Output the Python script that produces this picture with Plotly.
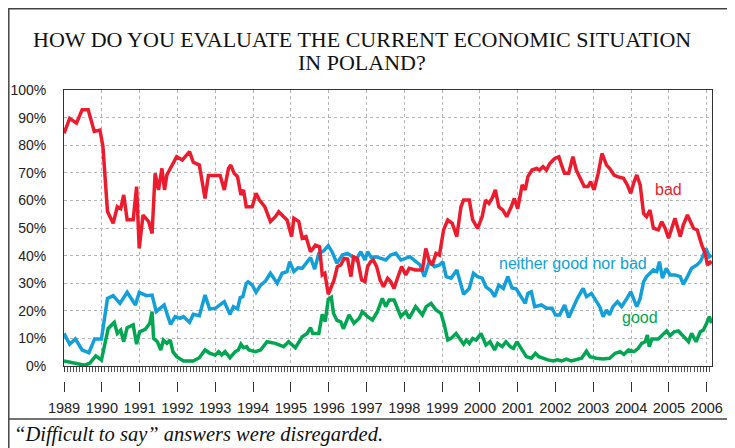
import plotly.graph_objects as go

TITLE_1 = "HOW DO YOU EVALUATE THE CURRENT ECONOMIC SITUATION"
TITLE_2 = "IN POLAND?"
NOTE = "\u201cDifficult to say\u201d answers were disregarded."

years = list(range(1989, 2007))
pct_ticks = list(range(0, 101, 10))
pct_labels = [f"{v}%" for v in pct_ticks]

# survey dates as decimal years
bad_x = [1989.00, 1989.15, 1989.33, 1989.48, 1989.64, 1989.80, 1989.95, 1990.03, 1990.15, 1990.30,
         1990.41, 1990.50, 1990.58, 1990.67, 1990.83, 1990.92, 1990.99, 1991.09, 1991.24, 1991.33,
         1991.41, 1991.50, 1991.59, 1991.66, 1991.72, 1991.85, 1991.98, 1992.13, 1992.32, 1992.42,
         1992.58, 1992.73, 1992.82, 1993.13, 1993.24, 1993.35, 1993.41, 1993.50, 1993.59, 1993.68,
         1993.75, 1993.82, 1993.98, 1994.08, 1994.17, 1994.31, 1994.46, 1994.59, 1994.68, 1994.81,
         1994.90, 1995.02, 1995.08, 1995.21, 1995.30, 1995.40, 1995.52, 1995.65, 1995.76, 1995.83,
         1995.90, 1995.99, 1996.06, 1996.14, 1996.23, 1996.32, 1996.41, 1996.50, 1996.59, 1996.66,
         1996.76, 1996.87, 1996.96, 1997.03, 1997.11, 1997.18, 1997.27, 1997.36, 1997.45, 1997.56,
         1997.64, 1997.73, 1997.82, 1997.93, 1998.04, 1998.13, 1998.30, 1998.48, 1998.57, 1998.65,
         1998.74, 1998.84, 1998.93, 1999.04, 1999.15, 1999.27, 1999.39, 1999.50, 1999.57, 1999.72,
         1999.81, 1999.94, 2000.06, 2000.15, 2000.24, 2000.32, 2000.41, 2000.50, 2000.61, 2000.71,
         2000.83, 2000.91, 2001.00, 2001.12, 2001.20, 2001.27, 2001.38, 2001.50, 2001.58, 2001.67,
         2001.76, 2001.85, 2001.98, 2002.09, 2002.16, 2002.24, 2002.35, 2002.46, 2002.55, 2002.67,
         2002.76, 2002.86, 2002.93, 2003.02, 2003.13, 2003.23, 2003.35, 2003.43, 2003.55, 2003.64,
         2003.80, 2003.90, 2003.99, 2004.08, 2004.15, 2004.24, 2004.33, 2004.41, 2004.50, 2004.59,
         2004.72, 2004.81, 2004.90, 2004.99, 2005.08, 2005.16, 2005.30, 2005.38, 2005.49, 2005.58,
         2005.65, 2005.75, 2005.87, 2005.96, 2006.02, 2006.09, 2006.13]
bad_y = [84.3, 89.7, 88.0, 92.8, 92.8, 85.0, 85.5, 79.5, 56.0, 51.7,
         57.7, 57.0, 62.0, 53.0, 53.0, 65.0, 42.6, 54.7, 52.3, 48.0,
         69.8, 63.8, 71.6, 63.8, 69.2, 72.2, 75.8, 74.6, 77.7, 73.8,
         72.8, 60.7, 69.0, 69.0, 63.8, 71.6, 72.8, 69.8, 68.6, 62.0,
         63.8, 57.7, 57.7, 62.6, 60.1, 57.7, 52.3, 54.1, 55.9, 54.1,
         52.9, 46.9, 53.5, 52.3, 46.3, 46.9, 41.4, 43.8, 43.2, 33.0,
         33.6, 26.0, 28.0, 31.0, 36.0, 36.6, 39.0, 38.8, 32.4, 39.6,
         39.0, 31.2, 30.6, 36.0, 37.8, 38.4, 36.0, 31.2, 28.7, 31.8,
         30.6, 28.1, 31.8, 36.0, 33.0, 35.4, 34.8, 34.8, 42.6, 38.5,
         36.6, 40.8, 40.2, 49.3, 52.9, 51.7, 46.9, 57.7, 60.1, 60.1,
         52.9, 49.9, 54.1, 60.1, 58.9, 60.7, 63.8, 57.7, 56.5, 54.1,
         57.7, 60.7, 57.0, 65.6, 63.8, 68.6, 71.0, 71.6, 71.0, 72.2,
         71.0, 73.4, 75.2, 75.8, 72.8, 69.8, 69.8, 75.8, 71.0, 67.4,
         65.0, 65.0, 66.8, 63.8, 69.8, 77.0, 72.8, 71.6, 69.2, 68.6,
         68.0, 65.6, 62.6, 66.8, 69.2, 65.6, 55.3, 54.1, 56.5, 49.9,
         49.3, 52.3, 49.9, 46.3, 49.9, 53.5, 46.9, 51.1, 54.7, 52.3,
         49.9, 49.3, 43.8, 40.8, 36.6, 37.6, 37.0]

neither_x = [1989.00, 1989.15, 1989.30, 1989.48, 1989.66, 1989.81, 1989.99, 1990.15, 1990.30, 1990.48,
             1990.67, 1990.89, 1990.99, 1991.18, 1991.33, 1991.44, 1991.54, 1991.65, 1991.72, 1991.82,
             1991.94, 1992.07, 1992.16, 1992.32, 1992.42, 1992.58, 1992.73, 1992.85, 1993.00, 1993.13,
             1993.24, 1993.39, 1993.48, 1993.59, 1993.66, 1993.73, 1993.82, 1993.87, 1993.98, 1994.08,
             1994.20, 1994.33, 1994.46, 1994.64, 1994.77, 1994.90, 1994.97, 1995.08, 1995.19, 1995.30,
             1995.40, 1995.52, 1995.63, 1995.74, 1995.87, 1995.99, 1996.09, 1996.22, 1996.36, 1996.50,
             1996.63, 1996.72, 1996.85, 1996.96, 1997.03, 1997.13, 1997.25, 1997.38, 1997.51, 1997.64,
             1997.78, 1997.91, 1998.04, 1998.15, 1998.26, 1998.42, 1998.53, 1998.66, 1998.80, 1998.93,
             1999.02, 1999.11, 1999.24, 1999.39, 1999.57, 1999.72, 1999.83, 1999.94, 2000.06, 2000.16,
             2000.30, 2000.39, 2000.50, 2000.62, 2000.74, 2000.85, 2000.96, 2001.05, 2001.12, 2001.20,
             2001.27, 2001.36, 2001.45, 2001.63, 2001.76, 2001.91, 2002.00, 2002.11, 2002.24, 2002.35,
             2002.46, 2002.58, 2002.73, 2002.82, 2002.95, 2003.08, 2003.17, 2003.26, 2003.35, 2003.43,
             2003.52, 2003.64, 2003.75, 2003.89, 2003.99, 2004.08, 2004.15, 2004.24, 2004.33, 2004.41,
             2004.50, 2004.59, 2004.68, 2004.75, 2004.83, 2004.93, 2005.03, 2005.16, 2005.30, 2005.38,
             2005.49, 2005.60, 2005.74, 2005.84, 2005.91, 2005.98, 2006.07, 2006.13]
neither_y = [11.8, 7.9, 9.8, 5.8, 4.8, 9.8, 9.8, 24.5, 25.5, 22.7,
             26.7, 22.1, 26.7, 25.5, 25.7, 19.7, 20.9, 22.1, 19.1, 15.1,
             17.9, 17.3, 17.9, 15.8, 18.7, 18.2, 25.7, 20.7, 20.9, 22.1,
             23.3, 18.7, 21.5, 20.7, 24.8, 25.1, 29.9, 30.5, 29.3, 26.7,
             29.3, 30.8, 33.6, 30.0, 33.6, 34.2, 37.8, 34.2, 35.6, 35.4,
             37.2, 39.3, 35.1, 40.8, 41.7, 43.6, 41.4, 37.2, 40.2, 40.8,
             39.6, 38.4, 41.4, 38.4, 41.4, 39.3, 39.6, 39.0, 38.4, 40.2,
             40.8, 38.4, 39.0, 39.6, 38.4, 36.6, 32.4, 37.8, 36.0, 36.6,
             37.8, 32.4, 31.8, 34.8, 26.0, 28.1, 33.6, 32.4, 31.8, 28.7,
             27.2, 25.1, 29.3, 28.1, 32.4, 28.3, 28.0, 26.0, 24.5, 22.7,
             26.3, 26.9, 21.5, 22.1, 20.9, 20.9, 18.5, 18.5, 22.1, 17.6,
             20.9, 24.5, 28.1, 25.1, 26.3, 23.3, 21.5, 17.9, 20.3, 18.5,
             21.5, 23.3, 21.5, 24.5, 26.9, 23.9, 21.5, 24.5, 30.5, 32.4,
             33.6, 34.8, 34.2, 37.8, 31.8, 35.4, 33.0, 33.0, 32.4, 29.6,
             32.4, 35.4, 36.6, 38.0, 40.2, 42.6, 39.6, 40.2]

good_x = [1989.00, 1989.20, 1989.37, 1989.55, 1989.68, 1989.84, 1989.99, 1990.17, 1990.33, 1990.41,
          1990.50, 1990.58, 1990.67, 1990.83, 1990.92, 1991.00, 1991.15, 1991.27, 1991.33, 1991.37,
          1991.47, 1991.56, 1991.63, 1991.72, 1991.81, 1991.88, 1991.98, 1992.16, 1992.42, 1992.58,
          1992.73, 1992.86, 1993.00, 1993.09, 1993.17, 1993.26, 1993.39, 1993.53, 1993.61, 1993.68,
          1993.75, 1993.83, 1993.89, 1994.06, 1994.20, 1994.37, 1994.59, 1994.81, 1994.94, 1995.12,
          1995.30, 1995.43, 1995.52, 1995.58, 1995.74, 1995.83, 1995.91, 1995.99, 1996.07, 1996.13,
          1996.22, 1996.32, 1996.39, 1996.54, 1996.67, 1996.81, 1996.89, 1997.03, 1997.16, 1997.29,
          1997.42, 1997.51, 1997.60, 1997.73, 1997.91, 1998.04, 1998.13, 1998.30, 1998.48, 1998.58,
          1998.71, 1998.84, 1998.97, 1999.06, 1999.15, 1999.24, 1999.37, 1999.46, 1999.57, 1999.64,
          1999.72, 1999.81, 1999.90, 2000.03, 2000.16, 2000.27, 2000.39, 2000.47, 2000.59, 2000.69,
          2000.80, 2000.89, 2000.98, 2001.09, 2001.23, 2001.36, 2001.47, 2001.56, 2001.67, 2001.80,
          2001.94, 2002.05, 2002.16, 2002.29, 2002.42, 2002.55, 2002.69, 2002.82, 2002.91, 2003.08,
          2003.26, 2003.43, 2003.58, 2003.71, 2003.81, 2003.93, 2004.08, 2004.19, 2004.28, 2004.37,
          2004.43, 2004.48, 2004.55, 2004.72, 2004.84, 2004.94, 2005.03, 2005.14, 2005.25, 2005.38,
          2005.52, 2005.60, 2005.72, 2005.83, 2005.91, 2005.98, 2006.07, 2006.13]
good_y = [1.8, 1.2, 1.0, 0.3, 1.0, 3.7, 2.2, 13.6, 15.8, 11.8,
          13.0, 8.8, 13.9, 14.9, 7.9, 12.4, 13.3, 15.5, 19.7, 10.0,
          8.8, 5.8, 9.4, 8.2, 9.4, 5.2, 3.4, 1.8, 1.8, 3.0,
          5.8, 4.6, 4.0, 5.2, 4.0, 5.2, 3.0, 5.2, 5.8, 7.9,
          6.6, 7.0, 5.8, 5.2, 5.8, 8.8, 8.2, 7.0, 8.8, 6.6,
          10.6, 11.8, 13.9, 11.8, 11.8, 18.7, 16.1, 24.2, 24.9, 19.0,
          16.5, 16.0, 13.5, 18.5, 15.5, 17.3, 19.7, 17.9, 16.7, 19.7,
          24.5, 21.5, 23.9, 23.9, 17.9, 19.7, 17.3, 21.5, 18.5, 21.5,
          22.7, 20.3, 19.1, 14.9, 9.4, 10.0, 11.8, 10.0, 7.9, 9.4,
          8.2, 10.0, 9.4, 11.8, 7.6, 8.8, 5.8, 8.2, 7.0, 8.8,
          7.0, 6.4, 8.8, 6.4, 3.4, 2.8, 4.6, 3.4, 2.8, 2.2,
          1.8, 2.2, 1.8, 2.5, 1.8, 2.2, 2.8, 5.4, 3.4, 2.8,
          2.5, 2.8, 4.6, 5.2, 4.2, 5.8, 5.2, 6.4, 8.2, 8.8,
          11.2, 7.0, 9.8, 9.8, 11.5, 12.7, 11.0, 12.4, 12.7, 11.0,
          8.8, 11.8, 8.8, 12.4, 13.0, 14.9, 17.9, 15.5]

RED = "#EC1C2E"
BLUE = "#129FDA"
GREEN = "#00A651"

# the page puts the figure 8px in from the top-left corner of the window
OFF = 8
W, H = 735 - OFF, 448 - OFF
SANS = "Liberation Sans, Arial, sans-serif"
SERIF = "Liberation Serif, Times New Roman, serif"


def px(x):
    return (x - OFF) / W


def py(y):
    return 1 - (y - OFF) / H


def line(x, y, color):
    return go.Scatter(x=x, y=y, mode="lines", line=dict(color=color, width=3.5),
                      showlegend=False, hoverinfo="skip")


def paper_text(text, x, y, font, xanchor="center"):
    return dict(text=text, xref="paper", yref="paper", x=px(x), y=py(y), showarrow=False,
                xanchor=xanchor, yanchor="middle", font=font)


fig = go.Figure()
fig.add_trace(line(neither_x, neither_y, BLUE))
fig.add_trace(line(good_x, good_y, GREEN))
fig.add_trace(line(bad_x, bad_y, RED))
# empty trace so the lower year axis gets drawn
fig.add_trace(go.Scatter(x=[], y=[], xaxis="x2", showlegend=False))

x_range = [1989, 2006.14]
grid = dict(showgrid=True, gridcolor="#b4b4b4", gridwidth=1, griddash="dot")
title_font = dict(family=SERIF, size=22, color="#111")

fig.update_layout(
    width=W, height=H,
    margin=dict(l=0, r=0, t=0, b=0),
    paper_bgcolor="white", plot_bgcolor="white",
    xaxis=dict(domain=[px(64), px(712)], range=x_range, tickmode="linear", tick0=1989, dtick=1,
               showticklabels=False, ticks="outside", ticklen=5, tickcolor="#333",
               minor=dict(dtick=1 / 12, tick0=1989, ticks="outside", ticklen=5,
                          tickcolor="#555", showgrid=False),
               showline=True, linecolor="#333", linewidth=1, mirror=True, zeroline=False,
               automargin=False, **grid),
    xaxis2=dict(overlaying="x", anchor="free", position=py(381), domain=[px(64), px(712)],
                range=x_range, tickvals=years, ticks="outside", ticklen=10, tickcolor="#333",
                tickwidth=1.2, showline=False, showgrid=False, zeroline=False, automargin=False,
                tickfont=dict(family=SANS, size=14.5, color="#222"), ticklabelstandoff=4),
    yaxis=dict(domain=[py(366), py(90)], range=[0, 100], tickvals=pct_ticks, ticktext=pct_labels,
               ticks="", showline=True, linecolor="#333", linewidth=1, mirror=True, zeroline=False,
               automargin=False, tickfont=dict(family=SANS, size=14, color="#222"),
               ticklabelstandoff=14, **grid),
    shapes=[
        # outer frame, as close to the window edge as the page allows
        dict(type="rect", xref="paper", yref="paper", x0=px(8.8), x1=px(730), y0=py(460),
             y1=py(8.8), line=dict(color="#444", width=1.5)),
        dict(type="line", xref="paper", yref="paper", x0=px(8.8), x1=px(730), y0=py(419),
             y1=py(419), line=dict(color="#444", width=1.5)),
    ],
    annotations=[
        paper_text(TITLE_1, 362, 39.5, title_font),
        paper_text(TITLE_2, 362, 62.5, title_font),
        paper_text(NOTE, 12, 434, dict(family=SERIF, size=20.5, color="#111", style="italic"),
                   xanchor="left"),
        dict(text="bad", x=2005.0, y=64, showarrow=False,
             font=dict(family=SANS, size=16, color=RED)),
        dict(text="neither good nor bad", x=2002.46, y=37.3, showarrow=False,
             font=dict(family=SANS, size=16, color=BLUE)),
        dict(text="good", x=2004.24, y=17.4, showarrow=False,
             font=dict(family=SANS, size=16, color=GREEN)),
    ],
)

fig.write_html("out.html")
